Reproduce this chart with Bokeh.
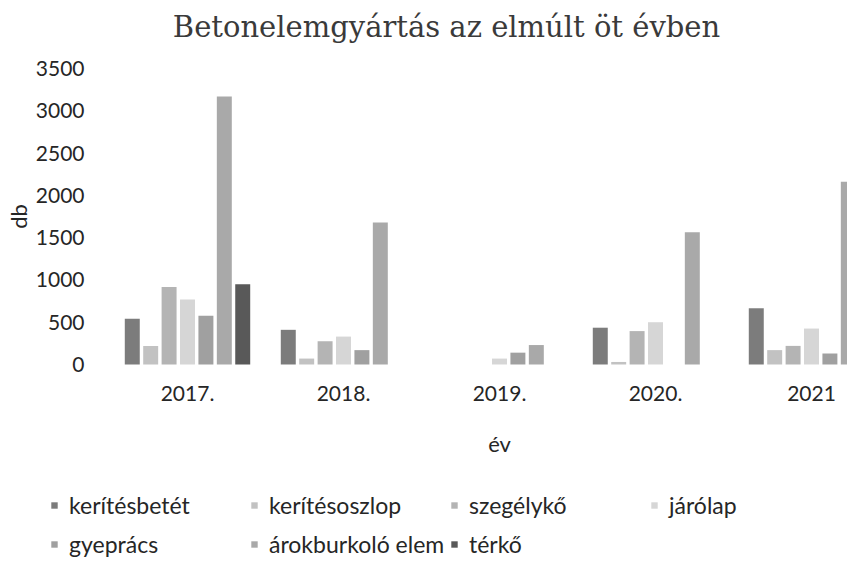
import math
from bokeh.plotting import figure
from bokeh.models import (ColumnDataSource, Range1d, FixedTicker, Legend, LegendItem, Label)
from bokeh.transform import dodge
from bokeh.embed import file_html
from bokeh.resources import INLINE

# ---------------- data ----------------
years = ["2017.", "2018.", "2019.", "2020.", "2021"]
series_names = ["kerítésbetét", "kerítésoszlop", "szegélykő", "járólap",
                "gyeprács", "árokburkoló elem", "térkő"]
keritesbetet = [540, 410, 0, 435, 665]
keritesoszlop = [220, 70, 0, 30, 170]
szegelyko = [915, 275, 0, 395, 220]
jarolap = [770, 330, 70, 500, 425]
gyepracs = [575, 170, 140, 0, 130]
arokburkolo = [3170, 1680, 230, 1565, 2160]
terko = [950, 0, 0, 0, 0]
y_ticks = [0, 500, 1000, 1500, 2000, 2500, 3000, 3500]

series_values = [keritesbetet, keritesoszlop, szegelyko, jarolap,
                 gyepracs, arokburkolo, terko]
colors = ["#7c7c7c", "#c2c2c2", "#b4b4b4", "#d6d6d6", "#a0a0a0", "#a9a9a9", "#595959"]

data = {"x": list(range(len(years)))}
keys = []
for i, vals in enumerate(series_values):
    k = f"s{i}"
    keys.append(k)
    data[k] = vals
source = ColumnDataSource(data)

# ---------------- geometry (the frame fills the whole canvas) ----------------
W, H = 847, 559
unit = 156.0                 # px per category
g0 = 187.0                   # canvas x of first category centre
x_start = -g0 / unit
x_end = x_start + W / unit
zero_c = 364.0               # canvas y of value 0
top_c = 68.0                 # canvas y of value 3500
ppu = (zero_c - top_c) / 3500.0
y_start = -(H - zero_c) / ppu
y_end = 3500 + top_c / ppu

p = figure(width=W, height=H, output_backend="svg", toolbar_location=None,
           x_range=Range1d(x_start, x_end), y_range=Range1d(y_start, y_end),
           min_border_left=0, min_border_right=0, min_border_top=0,
           min_border_bottom=0)
p.outline_line_color = None
p.xgrid.visible = False
p.ygrid.visible = False
p.background_fill_color = "white"
p.border_fill_color = "white"

FONT = "Lato"
TXT = "#262626"

step = 0.118
bw = 0.096
renderers = []
for i, k in enumerate(keys):
    r = p.vbar(x=dodge("x", (i - 3) * step, range=p.x_range), top=k, width=bw,
               bottom=0, source=source, fill_color=colors[i], line_color=None)
    renderers.append(r)

# axes drawn at fixed positions inside the frame
p.xaxis.ticker = FixedTicker(ticks=list(range(len(years))))
p.xaxis.major_label_overrides = {i: y for i, y in enumerate(years)}
p.yaxis.ticker = FixedTicker(ticks=y_ticks)
p.xaxis.fixed_location = 0
p.yaxis.fixed_location = -0.5
for ax in (p.xaxis[0], p.yaxis[0]):
    ax.axis_line_color = None
    ax.major_tick_line_color = None
    ax.minor_tick_line_color = None
    ax.major_tick_out = 0
    ax.major_tick_in = 0
    ax.minor_tick_out = 0
    ax.major_label_text_font = FONT
    ax.major_label_text_font_size = "21px"
    ax.major_label_text_color = TXT
p.xaxis.major_label_standoff = 21
p.yaxis.major_label_standoff = 25

# title
p.add_layout(Label(x=446, y=533, x_units="screen", y_units="screen",
                   text="Betonelemgyártás az elmúlt öt évben", text_align="center",
                   text_baseline="middle", text_font="DejaVu Serif",
                   text_font_size="29px", text_color="#3a3a3a"))
# axis titles
p.add_layout(Label(x=18, y=343, x_units="screen", y_units="screen", text="db",
                   angle=math.pi / 2, text_align="center", text_baseline="middle",
                   text_font=FONT, text_font_size="22px", text_color=TXT))
p.add_layout(Label(x=2, y=116, x_units="data", y_units="screen", text="év",
                   text_align="center", text_baseline="middle",
                   text_font=FONT, text_font_size="22px", text_color=TXT))

# legends (two rows, column grid)
rows = [(list(range(0, 4)), (50, 40)), (list(range(4, 7)), (50, 1))]
for idxs, loc in rows:
    lg = Legend(items=[LegendItem(label=series_names[i], renderers=[renderers[i]]) for i in idxs],
                location=loc, orientation="horizontal",
                padding=0, margin=0, spacing=0, border_line_color=None,
                background_fill_alpha=0, glyph_width=8, glyph_height=8,
                label_standoff=11, label_width=181, label_text_font=FONT,
                label_text_font_size="23px", label_text_color=TXT)
    p.add_layout(lg, "center")

open("out.html", "w").write(file_html(p, INLINE))
